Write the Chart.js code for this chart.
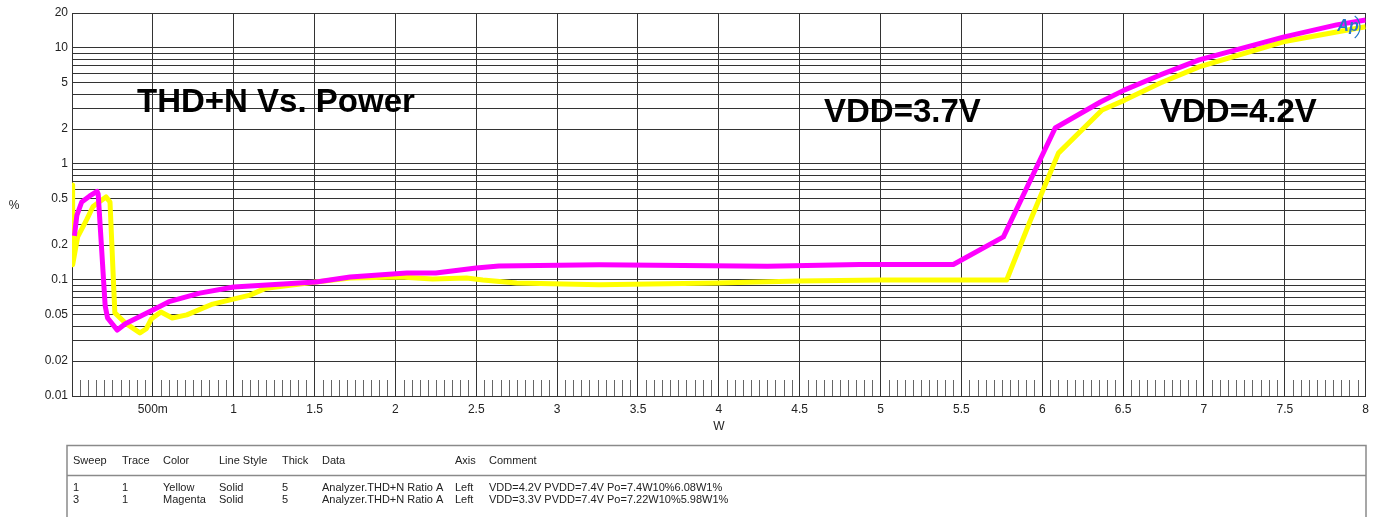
<!DOCTYPE html>
<html>
<head>
<meta charset="utf-8">
<title>THD+N Vs. Power</title>
<script src="https://cdn.jsdelivr.net/npm/chart.js@4.4.1/dist/chart.umd.min.js"></script>
<style>
  html, body { margin: 0; padding: 0; background: #ffffff; }
  #wrap { position: relative; width: 1375px; height: 517px; }
  canvas { display: block; }
</style>
</head>
<body>
<div id="wrap"><canvas id="c" width="1375" height="517"></canvas></div>
<script>
// Output power (W) and THD+N (%) for the two sweeps
const powerYellow = [0.0, 0.004, 0.035, 0.09, 0.13, 0.21, 0.235, 0.265, 0.335, 0.42, 0.46, 0.49, 0.55, 0.62, 0.71, 0.87, 1.1, 1.2, 1.51, 1.72, 2.03, 2.23, 2.44, 2.54, 2.75, 3.26, 3.99, 4.5, 5.0, 5.5, 5.78, 5.92, 6.1, 6.37, 6.51, 6.73, 6.97, 7.49, 7.82, 8.0];
const thdYellow   = [0.66, 0.135, 0.235, 0.33, 0.43, 0.52, 0.47, 0.052, 0.042, 0.035, 0.038, 0.046, 0.053, 0.047, 0.05, 0.062, 0.074, 0.085, 0.096, 0.104, 0.106, 0.102, 0.104, 0.1, 0.094, 0.091, 0.094, 0.098, 0.1, 0.1, 0.1, 0.31, 1.24, 2.92, 3.55, 4.99, 6.86, 11.3, 13.7, 15.2];

const powerMagenta = [0.015, 0.03, 0.06, 0.11, 0.155, 0.162, 0.205, 0.22, 0.28, 0.33, 0.5, 0.6, 0.79, 1.0, 1.51, 1.72, 2.07, 2.25, 2.5, 2.64, 3.26, 4.3, 4.87, 5.45, 5.76, 6.08, 6.36, 6.51, 6.73, 6.97, 7.49, 7.82, 8.0];
const thdMagenta   = [0.24, 0.36, 0.47, 0.53, 0.58, 0.55, 0.06, 0.047, 0.037, 0.042, 0.055, 0.065, 0.077, 0.087, 0.096, 0.106, 0.115, 0.115, 0.127, 0.132, 0.135, 0.131, 0.136, 0.136, 0.235, 2.04, 3.42, 4.35, 5.85, 7.88, 12.4, 15.8, 17.4];

// Axis ticks
const yTickValues = [0.01,0.02,0.03,0.04,0.05,0.06,0.07,0.08,0.09,0.1,0.2,0.3,0.4,0.5,0.6,0.7,0.8,0.9,1,2,3,4,5,6,7,8,9,10,20];
const yTickLabels = {0.01:'0.01',0.02:'0.02',0.05:'0.05',0.1:'0.1',0.2:'0.2',0.5:'0.5',1:'1',2:'2',5:'5',10:'10',20:'20'};
const xTickLabels = {0:'',0.5:'500m',1:'1',1.5:'1.5',2:'2',2.5:'2.5',3:'3',3.5:'3.5',4:'4',4.5:'4.5',5:'5',5.5:'5.5',6:'6',6.5:'6.5',7:'7',7.5:'7.5',8:'8'};

// Legend table rows
const tableHeader = ['Sweep','Trace','Color','Line Style','Thick','Data','Axis','Comment'];
const tableRows = [
  ['1','1','Yellow','Solid','5','Analyzer.THD+N Ratio A','Left','VDD=4.2V PVDD=7.4V Po=7.4W10%6.08W1%'],
  ['3','1','Magenta','Solid','5','Analyzer.THD+N Ratio A','Left','VDD=3.3V PVDD=7.4V Po=7.22W10%5.98W1%']
];
const tableCols = [73,122,163,219,282,322,455,489];

const toPoints = (xs, ys) => xs.map((x, i) => ({x: x, y: ys[i]}));

const FONT = '"Liberation Sans", Arial, sans-serif';

const decorations = {
  id: 'decorations',
  beforeDatasetsDraw(chart) {
    const ctx = chart.ctx, xs = chart.scales.x, ca = chart.chartArea;
    ctx.save();
    // minor ticks every 0.05 W along the bottom of the plot
    ctx.strokeStyle = '#666';
    ctx.lineWidth = 1;
    ctx.beginPath();
    for (let i = 1; i < 160; i++) {
      if (i % 10 === 0) continue;
      const px = Math.round(xs.getPixelForValue(i * 0.05)) + 0.5;
      ctx.moveTo(px, ca.bottom - 16);
      ctx.lineTo(px, ca.bottom);
    }
    ctx.stroke();
    ctx.restore();
  },
  afterDraw(chart) {
    const ctx = chart.ctx;
    ctx.save();
    // logo in the top right corner
    ctx.font = 'italic bold 16px ' + FONT;
    ctx.fillStyle = '#2677c9';
    ctx.textAlign = 'center';
    ctx.textBaseline = 'middle';
    ctx.fillText('Ap', 1348, 27);
    ctx.strokeStyle = '#2677c9';
    ctx.lineWidth = 1.2;
    ctx.beginPath();
    ctx.arc(1346, 27, 14, -0.9, 0.9);
    ctx.stroke();

    // annotations inside the plot
    ctx.fillStyle = '#000';
    ctx.textBaseline = 'alphabetic';
    ctx.textAlign = 'left';
    ctx.font = 'bold 33px ' + FONT;
    ctx.fillText('THD+N Vs. Power', 137, 112);
    ctx.fillText('VDD=3.7V', 824, 122);
    ctx.fillText('VDD=4.2V', 1160, 122);

    // axis names
    ctx.font = '12px ' + FONT;
    ctx.fillStyle = '#222';
    ctx.textAlign = 'center';
    ctx.textBaseline = 'middle';
    ctx.fillText('%', 14, 206);
    ctx.fillText('W', 719, 427);

    // legend table
    ctx.strokeStyle = '#8a8a8a';
    ctx.lineWidth = 1.5;
    ctx.beginPath();
    ctx.moveTo(67, 518); ctx.lineTo(67, 445.5); ctx.lineTo(1366, 445.5); ctx.lineTo(1366, 518);
    ctx.moveTo(67, 475.5); ctx.lineTo(1366, 475.5);
    ctx.stroke();
    ctx.fillStyle = '#222';
    ctx.font = '11px ' + FONT;
    ctx.textAlign = 'left';
    ctx.textBaseline = 'alphabetic';
    tableHeader.forEach((t, i) => ctx.fillText(t, tableCols[i], 464));
    tableRows.forEach((row, r) => {
      row.forEach((t, i) => ctx.fillText(t, tableCols[i], 491 + r * 12));
    });
    ctx.restore();
  }
};

new Chart(document.getElementById('c'), {
  type: 'line',
  data: {
    datasets: [
      {
        label: 'Magenta',
        data: toPoints(powerMagenta, thdMagenta),
        borderColor: '#ff00ff',
        borderWidth: 5,
        pointRadius: 0,
        tension: 0,
        fill: false,
        order: 1,
        borderJoinStyle: 'round'
      },
      {
        label: 'Yellow',
        data: toPoints(powerYellow, thdYellow),
        borderColor: '#ffff00',
        borderWidth: 5,
        pointRadius: 0,
        tension: 0,
        fill: false,
        order: 2,
        borderJoinStyle: 'round'
      }
    ]
  },
  options: {
    responsive: false,
    animation: false,
    layout: { padding: { top: 13, right: 9, left: 0, bottom: 0 } },
    plugins: { legend: { display: false }, tooltip: { enabled: false } },
    scales: {
      x: {
        type: 'linear',
        min: 0,
        max: 8,
        afterFit(scale) { scale.height = 121; },
        ticks: {
          stepSize: 0.5,
          autoSkip: false,
          maxRotation: 0,
          padding: 6,
          color: '#222',
          font: { family: FONT, size: 12 },
          callback: v => (xTickLabels[v] !== undefined ? xTickLabels[v] : '')
        },
        grid: { color: '#333', lineWidth: 1, drawTicks: false },
        border: { color: '#333', width: 1 }
      },
      y: {
        type: 'logarithmic',
        min: 0.01,
        max: 20,
        afterFit(scale) { scale.width = 72; },
        afterBuildTicks(scale) { scale.ticks = yTickValues.map(v => ({ value: v })); },
        ticks: {
          autoSkip: false,
          padding: 4,
          color: '#222',
          font: { family: FONT, size: 12 },
          callback: v => (yTickLabels[v] !== undefined ? yTickLabels[v] : '')
        },
        grid: { color: '#333', lineWidth: 1, drawTicks: false },
        border: { color: '#333', width: 1 }
      }
    }
  },
  plugins: [decorations]
});
</script>
</body>
</html>
